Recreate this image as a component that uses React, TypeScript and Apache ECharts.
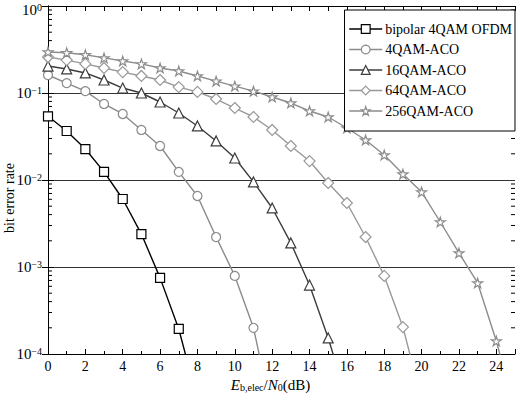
import React, { useEffect, useRef } from "react";
import * as echarts from "echarts";

const X_BIPOLAR = [0, 1, 2, 3, 4, 5, 6, 7, 8];
const Y_BIPOLAR = [0.054, 0.0366, 0.0227, 0.0124, 0.00605, 0.00239, 0.00075, 0.000194, 0.00003];

const X_4QAM = [0, 1, 2, 3, 4, 5, 6, 7, 8, 9, 10, 11, 12];
const Y_4QAM = [0.161, 0.13, 0.105, 0.0748, 0.0574, 0.0376, 0.0246, 0.0124, 0.00655, 0.00221, 0.00079, 0.0002, 0.00002];

const X_16QAM = [0, 1, 2, 3, 4, 5, 6, 7, 8, 9, 10, 11, 12, 13, 14, 15, 16];
const Y_16QAM = [0.204, 0.189, 0.17, 0.141, 0.114, 0.1, 0.0788, 0.0589, 0.0418, 0.0281, 0.0179, 0.0095, 0.00477, 0.00189, 0.00062, 0.000153, 0.00003];

const X_64QAM = [0, 1, 2, 3, 4, 5, 6, 7, 8, 9, 10, 11, 12, 13, 14, 15, 16, 17, 18, 19, 20];
const Y_64QAM = [0.259, 0.239, 0.216, 0.194, 0.174, 0.157, 0.141, 0.117, 0.103, 0.0853, 0.0672, 0.053, 0.0376, 0.0246, 0.0165, 0.00924, 0.00544, 0.00221, 0.00079, 0.000204, 0.00003];

const X_256QAM = [0, 1, 2, 3, 4, 5, 6, 7, 8, 9, 10, 11, 12, 13, 14, 15, 16, 17, 18, 19, 20, 21, 22, 23, 24, 25];
const Y_256QAM = [0.296, 0.29, 0.275, 0.253, 0.233, 0.216, 0.194, 0.179, 0.157, 0.137, 0.12, 0.105, 0.09, 0.0767, 0.0621, 0.053, 0.0396, 0.0288, 0.0194, 0.0117, 0.00728, 0.00329, 0.00145, 0.000655, 0.000141, 0.000022];

const SERIES_NAMES = ["bipolar 4QAM OFDM", "4QAM-ACO", "16QAM-ACO", "64QAM-ACO", "256QAM-ACO"];
const SERIES_COLORS = ["#000000", "#8a8a8a", "#3c3c3c", "#999999", "#8c8c8c"];
const DECADE_EXPONENTS = [-4, -3, -2, -1];
const MINOR_MULTIPLIERS = [2, 3, 4, 5, 6, 7, 8, 9];

const FONT = "'Liberation Serif', 'Times New Roman', serif";
const STAR = "path://M50,2 L61.2,36.5 L97.6,36.5 L68.2,57.9 L79.4,92.5 L50,71.1 L20.6,92.5 L31.8,57.9 L2.4,36.5 L38.8,36.5 Z";

function zip(xs: number[], ys: number[]) {
  return xs.map((x, i) => [x, ys[i]]);
}

export default function App() {
  const ref = useRef<HTMLDivElement>(null);
  useEffect(() => {
    if (!ref.current) return;
    const chart = echarts.init(ref.current, undefined, { renderer: "svg" });

    const minorData: number[][] = [];
    DECADE_EXPONENTS.forEach((e) => {
      MINOR_MULTIPLIERS.forEach((m) => minorData.push([0, m * Math.pow(10, e)]));
    });

    const mk = (idx: number, data: number[][], symbol: string, size: number) => ({
      name: SERIES_NAMES[idx],
      type: "line",
      data,
      clip: true,
      symbol,
      symbolSize: size,
      symbolKeepAspect: true,
      showAllSymbol: true,
      lineStyle: { color: SERIES_COLORS[idx], width: 1.4 },
      itemStyle: { color: "#ffffff", borderColor: SERIES_COLORS[idx], borderWidth: 1.2 },
      emphasis: { disabled: true },
      z: 3,
    });

    chart.setOption({
      animation: false,
      textStyle: { fontFamily: FONT },
      grid: { left: 48, top: 6, right: 1, bottom: 39, containLabel: false, outerBoundsMode: "none" },
      legend: {
        data: SERIES_NAMES.map((n, i) => ({
          name: n,
          itemStyle: { color: "#ffffff", borderColor: SERIES_COLORS[i], borderWidth: 1.2 },
          lineStyle: { color: SERIES_COLORS[i], width: 1.4 },
        })),
        orient: "vertical",
        right: 1,
        top: 10,
        itemWidth: 33,
        itemHeight: 11,
        itemGap: 6.5,
        padding: [12, 3, 13, 4],
        backgroundColor: "#ffffff",
        borderColor: "#000000",
        borderWidth: 1,
        borderRadius: 0,
        textStyle: { fontFamily: FONT, fontSize: 14, color: "#000", padding: [0, 0, 0, -2] },
        z: 10,
      },
      xAxis: [
        {
          type: "value",
          position: "bottom",
          min: 0,
          max: 25,
          interval: 2,
          axisLine: { show: true, lineStyle: { color: "#000", width: 1 } },
          axisTick: { show: true, inside: true, length: 5, lineStyle: { color: "#000" } },
          minorTick: { show: true, splitNumber: 2, length: 3, lineStyle: { color: "#000" } },
          splitLine: { show: false },
          axisLabel: { fontFamily: FONT, fontSize: 14, color: "#000", margin: 5, showMaxLabel: false },
          name: "{i|E}{sub|b,elec}{n|/}{i|N}{sub|0}{n|(dB)}",
          nameLocation: "middle",
          nameGap: 17,
          nameTextStyle: {
            fontFamily: FONT,
            color: "#000",
            padding: [0, 22, 0, 0],
            rich: {
              i: { fontFamily: FONT, fontSize: 15, fontStyle: "italic", color: "#000", verticalAlign: "top" },
              n: { fontFamily: FONT, fontSize: 15, color: "#000", verticalAlign: "top" },
              sub: { fontFamily: FONT, fontSize: 10, color: "#000", verticalAlign: "top", padding: [5, 0, 0, 0] },
            },
          },
        },
        {
          type: "value",
          position: "top",
          min: 0,
          max: 25,
          interval: 1,
          axisLine: { show: true, lineStyle: { color: "#000", width: 1 } },
          axisTick: { show: true, inside: true, length: 5, lineStyle: { color: "#000" } },
          axisLabel: { show: false },
          splitLine: { show: false },
        },
      ],
      yAxis: [
        {
          type: "log",
          logBase: 10,
          min: 0.0001,
          max: 1,
          position: "left",
          axisLine: { show: true, lineStyle: { color: "#000", width: 1 } },
          axisTick: { show: true, inside: true, length: 6, lineStyle: { color: "#000" } },
          splitLine: { show: true, lineStyle: { color: "#333", width: 1 } },
          axisLabel: {
            margin: 6,
            fontFamily: FONT,
            formatter: (v: number) => {
              const e = Math.round(Math.log10(v));
              return e === 0 ? "{b0|10}{s|0}" : "{b|10}{s|\u2212" + -e + "}";
            },
            rich: {
              b: { fontFamily: FONT, fontSize: 15, color: "#000", verticalAlign: "bottom" },
              b0: { fontFamily: FONT, fontSize: 15, color: "#000", verticalAlign: "bottom", padding: [8, 0, 0, 0] },
              s: { fontFamily: FONT, fontSize: 10, color: "#000", verticalAlign: "bottom", padding: [0, 0, 5, 0] },
            },
          },
        },
        {
          type: "log",
          logBase: 10,
          min: 0.0001,
          max: 1,
          position: "right",
          axisLine: { show: true, lineStyle: { color: "#000", width: 1 } },
          axisTick: { show: true, inside: true, length: 6, lineStyle: { color: "#000" } },
          axisLabel: { show: false },
          splitLine: { show: false },
        },
      ],
      graphic: [
        {
          type: "text",
          x: 9,
          y: 198,
          rotation: Math.PI / 2,
          style: {
            text: "bit error rate",
            fontFamily: FONT,
            fontSize: 14,
            fill: "#000",
            textAlign: "center",
            textVerticalAlign: "middle",
          },
        },
      ],
      series: [
        {
          name: "minorTicks",
          type: "custom",
          coordinateSystem: "cartesian2d",
          xAxisIndex: 0,
          yAxisIndex: 0,
          silent: true,
          clip: false,
          data: minorData,
          renderItem: (params: any, api: any) => {
            const v = api.value(1);
            const a = api.coord([0, v]);
            const b = api.coord([25, v]);
            return {
              type: "group",
              children: [
                { type: "line", shape: { x1: a[0], y1: a[1], x2: a[0] + 4, y2: a[1] }, style: { stroke: "#000", lineWidth: 1 } },
                { type: "line", shape: { x1: b[0] - 4, y1: b[1], x2: b[0], y2: b[1] }, style: { stroke: "#000", lineWidth: 1 } },
              ],
            };
          },
          z: 2,
        },
        mk(0, zip(X_BIPOLAR, Y_BIPOLAR), "rect", 9),
        mk(1, zip(X_4QAM, Y_4QAM), "circle", 9),
        mk(2, zip(X_16QAM, Y_16QAM), "triangle", 10),
        mk(3, zip(X_64QAM, Y_64QAM), "diamond", 11),
        mk(4, zip(X_256QAM, Y_256QAM), STAR, 10),
      ],
    });
    return () => chart.dispose();
  }, []);
  return <div ref={ref} style={{ position: "fixed", left: 0, top: 0, width: 516, height: 393, background: "#fff" }} />;
}
